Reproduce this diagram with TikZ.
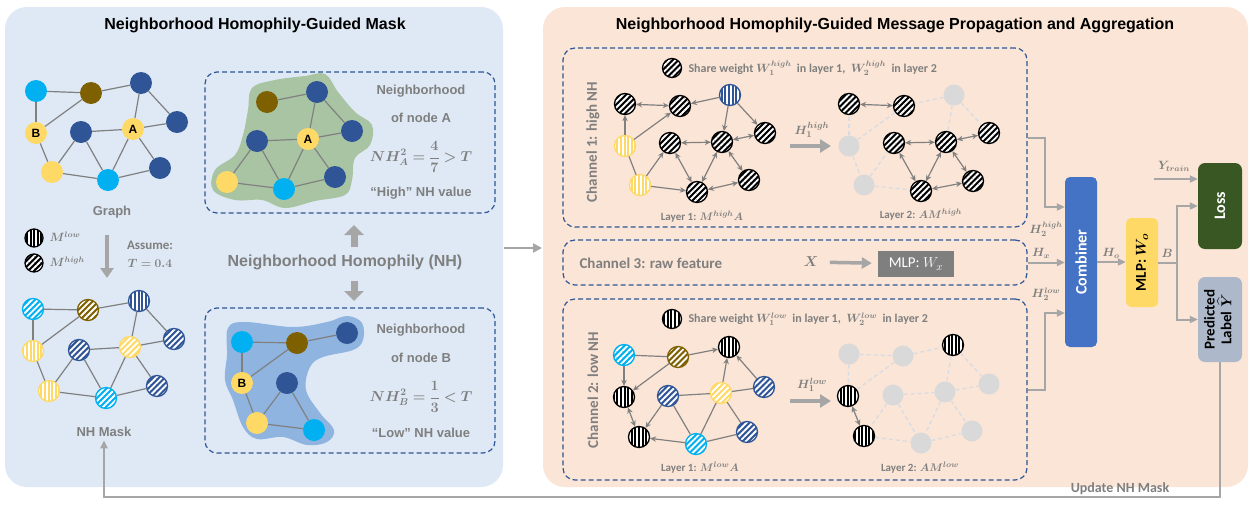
\documentclass[tikz,border=0pt]{standalone}
\usepackage{fontspec}
\setmainfont{Liberation Sans}
\newfontfamily\carl{Carlito}
\usepackage{amsmath}
\usepackage{bm}
\usetikzlibrary{arrows.meta,patterns.meta}
\newcommand\myfs[1]{\fontsize{#1}{#1}\selectfont}
\definecolor{cyanN}{HTML}{00B0F0}
\definecolor{brownN}{HTML}{7F6000}
\definecolor{blueN}{HTML}{2F5597}
\definecolor{yellowN}{HTML}{FFD966}
\definecolor{leftbg}{HTML}{DEE9F5}
\definecolor{rightbg}{HTML}{FBE5D6}
\definecolor{txtgray}{HTML}{7F7F7F}
\definecolor{edgegray}{HTML}{808080}
\definecolor{arrgray}{HTML}{A6A6A6}
\definecolor{ghost}{HTML}{D9D9D9}
\definecolor{ghostedge}{HTML}{D6DCE5}
\definecolor{greenblob}{HTML}{A9C4A3}
\definecolor{blueblob}{HTML}{8FB4E0}
\definecolor{combblue}{HTML}{4472C4}
\definecolor{lossgreen}{HTML}{385723}
\definecolor{predgray}{HTML}{ADB9CA}
\definecolor{mlpgray}{HTML}{7F7F7F}
\tikzset{
 title/.style={font=\bfseries\myfs{16}},
 gtxt/.style={text=txtgray,font=\bfseries\myfs{13}},
 ctxt/.style={text=txtgray,font=\carl\bfseries\myfs{15}},
 stxt/.style={text=txtgray,font=\carl\bfseries\myfs{11}},
 htxt/.style={text=txtgray,font=\myfs{13}},
 gn/.style={circle,minimum size=22pt,inner sep=0pt,fill=#1,font=\bfseries\myfs{12}},
 hd/.style={circle,minimum size=21pt,inner sep=0pt,draw=#1,line width=1.3pt,preaction={fill=#1},pattern={Lines[angle=45,distance=4.2pt,line width=1.9pt]},pattern color=white},
 hv/.style={circle,minimum size=21pt,inner sep=0pt,draw=#1,line width=1.3pt,preaction={fill=#1},pattern={Lines[angle=90,distance=3.6pt,line width=1.6pt]},pattern color=white},
 gh/.style={circle,minimum size=21pt,inner sep=0pt,fill=ghost},
 ge/.style={draw=edgegray,line width=1.2pt},
 gd/.style={draw=ghostedge,line width=1.3pt,dash pattern=on 4pt off 3pt},
 ar/.style={draw=edgegray,line width=1.2pt,-{Stealth[length=6pt,width=5.5pt]}},
 ab/.style={draw=edgegray,line width=1.2pt,{Stealth[length=6pt,width=5.5pt]}-{Stealth[length=6pt,width=5.5pt]}},
 conn/.style={draw=arrgray,line width=2pt,-{Triangle[length=8pt,width=7pt]}},
 fat/.style={draw=arrgray,line width=#1},
 dbox/.style={draw=blueN,line width=1.2pt,dash pattern=on 5pt off 3pt,rounded corners=12pt,inner sep=0pt},
}
\begin{document}
\begin{tikzpicture}[x=1pt,y=-1pt]
\useasboundingbox (0,0) rectangle (1251,504);
\fill[white] (0,0) rectangle (1251,504);
\fill[leftbg,rounded corners=22pt] (5,7) rectangle (503,487);
\fill[rightbg,rounded corners=22pt] (543,7) rectangle (1248,487);
\node[title] (tl) at (255,25) {Neighborhood Homophily-Guided Mask};
\node[title] (tr) at (895,25) {Neighborhood Homophily-Guided Message Propagation and Aggregation};

% ---------- Graph ----------
\node[gn=cyanN] (g1) at (36,91) {};
\node[gn=brownN] (g2) at (91,93) {};
\node[gn=blueN] (g3) at (141,83) {};
\node[gn=blueN] (g4) at (177,122) {};
\node[gn=yellowN] (gA) at (133,129) {A};
\node[gn=yellowN] (gB) at (36,133) {B};
\node[gn=blueN] (g5) at (81,132) {};
\node[gn=yellowN] (g6) at (52,172) {};
\node[gn=cyanN] (g7) at (108,180) {};
\node[gn=blueN] (g8) at (160,168) {};
\foreach \a/\b in {g1/g2,g1/gB,g2/gB,g2/g3,g3/gA,g3/g4,gA/g4,gA/g5,gA/g7,gA/g8,g5/g6,g5/g7,gB/g6,g6/g7,g7/g8}
  \draw[ge] (\a) -- (\b);
\node[gtxt] (graphlbl) at (112,212) {Graph};

% legend
\node[hv=black,minimum size=18pt] (legl) at (34,238) {};
\node[anchor=west,htxt,font=\myfs{12}] (leglt) at (46,237) {$\bm{M^{low}}$};
\node[hd=black,minimum size=18pt] (legh) at (34,263) {};
\node[anchor=west,htxt,font=\myfs{12}] (leght) at (46,262) {$\bm{M^{high}}$};
\coordinate (da1) at (107,235); \coordinate (da2) at (107,278);
\draw[fat=4.5pt,-{Triangle[length=10pt,width=13pt]}] (da1) -- (da2);
\node[text=txtgray,font=\carl\bfseries\myfs{13}] (assume) at (150,245) {Assume:};
\node[htxt] (tval) at (150,263) {$\bm{T=0.4}$};

% ---------- NH mask ----------
\node[hd=cyanN] (h1) at (33,309) {};
\node[hd=brownN] (h2) at (88,310) {};
\node[hv=blueN] (h3) at (139,301) {};
\node[hd=blueN] (h4) at (174,339) {};
\node[hd=yellowN] (hA) at (130,347) {};
\node[hv=yellowN] (hB) at (33,351) {};
\node[hd=blueN] (h5) at (79,350) {};
\node[hv=yellowN] (h6) at (49,391) {};
\node[hd=cyanN] (h7) at (106,398) {};
\node[hd=blueN] (h8) at (157,386) {};
\foreach \a/\b in {h1/h2,h1/hB,h2/hB,h2/h3,h3/hA,h3/h4,hA/h4,hA/h5,hA/h7,hA/h8,h5/h6,h5/h7,hB/h6,h6/h7,h7/h8}
  \draw[ge] (\a) -- (\b);
\node[gtxt] (masklbl) at (104,432) {NH Mask};

% ---------- Neighborhood A ----------
\node[dbox,minimum width=290pt,minimum height=141pt] (boxA) at (350,142.5) {};
\fill[greenblob] plot[smooth cycle,tension=0.6] coordinates {(252,88) (275,80) (305,76) (325,74) (338,92) (355,112) (372,125) (370,145) (355,158) (352,180) (345,195) (315,201) (285,208) (262,200) (235,200) (213,190) (215,170) (235,155) (243,135) (248,110)};
\node[gn=brownN] (a2) at (267,102) {};
\node[gn=blueN] (a3) at (317,92) {};
\node[gn=yellowN] (aA) at (308,139) {A};
\node[gn=blueN] (a5) at (257,141) {};
\node[gn=blueN] (a4) at (352,131) {};
\node[gn=yellowN] (a6) at (227,182) {};
\node[gn=cyanN] (a7) at (284,189) {};
\node[gn=blueN] (a8) at (335,177) {};
\foreach \a/\b in {a2/a3,a3/aA,a3/a4,aA/a4,aA/a5,aA/a7,aA/a8,a5/a6,a5/a7,a6/a7,a7/a8}
  \draw[ge] (\a) -- (\b);
\node[gtxt] (ta1) at (421,91) {Neighborhood};
\node[gtxt] (ta2) at (421,118) {of node A};
\node[htxt,font=\myfs{14}] (ta3) at (421,157) {$\displaystyle\bm{NH_A^2}\bm{=}\bm{\frac{4}{7}}\bm{>}\bm{T}$};
\node[gtxt] (ta4) at (421,193) {“High” NH value};

% ---------- Neighborhood B ----------
\node[dbox,minimum width=290pt,minimum height=145pt] (boxB) at (350,380.5) {};
\fill[blueblob] plot[smooth cycle,tension=0.6] coordinates {(228,328) (245,322) (293,327) (327,322) (347,316) (362,323) (363,340) (353,350) (323,357) (310,367) (306,390) (320,413) (334,430) (327,442) (307,445) (283,437) (257,439) (243,427) (233,400) (225,380) (227,355)};
\node[gn=cyanN] (b1) at (242,342) {};
\node[gn=brownN] (b2) at (297,343) {};
\node[gn=blueN] (b3) at (347,333) {};
\node[gn=yellowN] (bB) at (242,383) {B};
\node[gn=blueN] (b5) at (287,383) {};
\node[gn=yellowN] (b6) at (257,423) {};
\node[gn=cyanN] (b7) at (314,430) {};
\foreach \a/\b in {b1/b2,b1/bB,b2/bB,b2/b3,bB/b6,b5/b6,b5/b7,b6/b7}
  \draw[ge] (\a) -- (\b);
\node[gtxt] (tb1) at (421,330) {Neighborhood};
\node[gtxt] (tb2) at (421,358) {of node B};
\node[htxt,font=\myfs{14}] (tb3) at (421,397) {$\displaystyle\bm{NH_B^2}\bm{=}\bm{\frac{1}{3}}\bm{<}\bm{T}$};
\node[gtxt] (tb4) at (421,433) {“Low” NH value};

% NH text and arrows
\node[text=txtgray,font=\bfseries\myfs{16}] (nh) at (345,262) {Neighborhood Homophily (NH)};
\coordinate (u1) at (354,247); \coordinate (u2) at (354,225);
\coordinate (d1) at (354,281); \coordinate (d2) at (354,301);
\draw[fat=7pt,-{Triangle[length=10pt,width=19pt]}] (u1) -- (u2);
\draw[fat=7pt,-{Triangle[length=10pt,width=19pt]}] (d1) -- (d2);
\coordinate (lp) at (504,248); \coordinate (rp) at (542,248);
\draw[fat=2.5pt,-{Triangle[length=9pt,width=9pt]}] (lp) -- (rp);

% ---------- Channel boxes ----------
\node[dbox,minimum width=464pt,minimum height=179pt] (ch1) at (795,137.5) {};
\node[dbox,minimum width=464pt,minimum height=45pt] (ch3) at (795,262.5) {};
\node[dbox,minimum width=464pt,minimum height=181pt] (ch2) at (795,389.5) {};
\node[ctxt,rotate=90] (c1l) at (593,142) {Channel 1: high NH};
\node[ctxt,rotate=90] (c2l) at (593,390) {Channel 2: low NH};

% share weight legends
\node[hd=black,minimum size=19pt] (sw1) at (672,68) {};
\node[stxt,font=\carl\bfseries\myfs{12},anchor=west] (sw1t) at (685,68) {Share weight $\bm{W_1^{high}}$\ \ in layer 1,\ \ $\bm{W_2^{high}}$\ \ in layer 2};
\node[hv=black,minimum size=19pt] (sw2) at (672,319) {};
\node[stxt,font=\carl\bfseries\myfs{12},anchor=west] (sw2t) at (685,319) {Share weight $\bm{W_1^{low}}$\ \ in layer 1,\ \ $\bm{W_2^{low}}$\ \ in layer 2};

% Channel 1 layer 1
\node[hd=black] (n1) at (625,104) {};
\node[hd=black] (n2) at (680,106) {};
\node[hv=blueN] (n3) at (730,95) {};
\node[hv=yellowN] (n4) at (625,146) {};
\node[hd=black] (n5) at (670,143) {};
\node[hd=black] (n6) at (722,142) {};
\node[hd=black] (n7) at (765,133) {};
\node[hv=yellowN] (n8) at (640,185) {};
\node[hd=black] (n9) at (697,192) {};
\node[hd=black] (n10) at (749,180) {};
\foreach \a/\b in {n1/n2,n5/n6,n5/n9,n6/n7,n6/n9,n6/n10,n9/n10} \draw[ab] (\a) -- (\b);
\foreach \a/\b in {n3/n2,n3/n6,n3/n7,n4/n1,n4/n2,n8/n5,n8/n9} \draw[ar] (\a) -- (\b);
\draw[ge] (n4) -- (n8);
\node[stxt] (l11) at (702,217) {Layer 1: $\bm{M^{high}A}$};

% Channel 1 layer 2
\node[hd=black] (m1) at (849,104) {};
\node[hd=black] (m2) at (904,106) {};
\node[gh] (m3) at (954,95) {};
\node[gh] (m4) at (849,146) {};
\node[hd=black] (m5) at (894,143) {};
\node[hd=black] (m6) at (946,142) {};
\node[hd=black] (m7) at (989,133) {};
\node[gh] (m8) at (864,185) {};
\node[hd=black] (m9) at (921,191) {};
\node[hd=black] (m10) at (973,181) {};
\foreach \a/\b in {m3/m2,m3/m6,m3/m7,m4/m1,m4/m2,m4/m8,m8/m5,m8/m9} \draw[gd] (\a) -- (\b);
\foreach \a/\b in {m1/m2,m5/m6,m5/m9,m6/m7,m6/m9,m6/m10,m9/m10} \draw[ab] (\a) -- (\b);
\node[stxt] (l12) at (921,215) {Layer 2: $\bm{AM^{high}}$};
\coordinate (h1a) at (790,146); \coordinate (h1b) at (831,146);
\draw[fat=4.5pt,-{Triangle[length=11pt,width=13pt]}] (h1a) -- (h1b);
\node[htxt] (h1l) at (812,130) {$\bm{H_1^{high}}$};

% Channel 3
\node[ctxt,anchor=west] (c3l) at (576,263) {Channel 3: raw feature};
\node[htxt,font=\myfs{15}] (X) at (811,262) {$\bm{X}$};
\node[fill=mlpgray,text=white,font=\carl\myfs{15},minimum width=76pt,minimum height=26pt,inner sep=0pt] (mlpx) at (916,264) {MLP: $W_x$};
\draw[fat=3.5pt,-{Triangle[length=10pt,width=11pt]},shorten <=8pt,shorten >=6pt] (X) -- (mlpx);

% Channel 2 layer 1
\node[hd=cyanN] (p1) at (624,355) {};
\node[hd=brownN] (p2) at (678,357) {};
\node[hv=black] (p3) at (729,347) {};
\node[hv=black] (p4) at (624,397) {};
\node[hd=blueN] (p5) at (668,396) {};
\node[hd=yellowN] (p6) at (721,393) {};
\node[hd=blueN] (p7) at (764,387) {};
\node[hv=black] (p8) at (639,437) {};
\node[hd=cyanN] (p9) at (696,444) {};
\node[hd=blueN] (p10) at (747,432) {};
\foreach \a/\b in {p1/p2,p5/p6,p5/p9,p6/p9,p6/p7,p6/p10,p9/p10} \draw[ge] (\a) -- (\b);
\foreach \a/\b in {p1/p4,p2/p3,p2/p4,p6/p3,p7/p3,p5/p8,p9/p8} \draw[ar] (\a) -- (\b);
\draw[ab] (p4) -- (p8);
\node[stxt] (l21) at (700,468) {Layer 1: $\bm{M^{low}A}$};

% Channel 2 layer 2
\node[gh] (q1) at (849,354) {};
\node[gh] (q2) at (903,356) {};
\node[hv=black] (q3) at (953,345) {};
\node[hv=black] (q4) at (848,396) {};
\node[gh] (q5) at (893,395) {};
\node[gh] (q6) at (945,392) {};
\node[gh] (q7) at (989,384) {};
\node[hv=black] (q8) at (864,436) {};
\node[gh] (q9) at (921,443) {};
\node[gh] (q10) at (972,431) {};
\foreach \a/\b in {q1/q2,q1/q4,q2/q3,q2/q4,q3/q6,q3/q7,q5/q6,q5/q8,q5/q9,q6/q7,q6/q9,q6/q10,q9/q10,q8/q9} \draw[gd] (\a) -- (\b);
\draw[ab] (q4) -- (q8);
\node[stxt] (l22) at (920,468) {Layer 2: $\bm{AM^{low}}$};
\coordinate (h2a) at (790,401); \coordinate (h2b) at (831,401);
\draw[fat=4.5pt,-{Triangle[length=11pt,width=13pt]}] (h2a) -- (h2b);
\node[htxt] (h2l) at (812,385) {$\bm{H_1^{low}}$};

% ---------- Combiner and heads ----------
\node[fill=combblue,rounded corners=5pt,minimum width=32pt,minimum height=170pt,inner sep=0pt,text=white,font=\carl\bfseries\myfs{16}] (comb) at (1081,262) {\rotatebox{90}{Combiner}};
\node[fill=yellowN,rounded corners=5pt,minimum width=32pt,minimum height=89pt,inner sep=0pt,font=\carl\bfseries\myfs{15}] (mlpo) at (1142,262.5) {\rotatebox{90}{MLP: $\bm{W_o}$}};
\node[fill=lossgreen,rounded corners=7pt,minimum width=44pt,minimum height=86pt,inner sep=0pt,text=white,font=\carl\bfseries\myfs{16}] (loss) at (1220,206) {\rotatebox{90}{Loss}};
\node[fill=predgray,rounded corners=7pt,minimum width=44pt,minimum height=85pt,inner sep=0pt,font=\carl\bfseries\myfs{15}] (pred) at (1220,319.5) {\rotatebox{90}{\begin{tabular}{@{}c@{}}Predicted\\[-2pt] Label $\bm{\widehat{Y}}$\end{tabular}}};

\coordinate (k1) at (1045,207);
\draw[conn] (ch1.east) -| (k1) -- (k1 -| comb.west);
\coordinate (k2) at (1045,313);
\draw[conn] (ch2.east) -| (k2) -- (k2 -| comb.west);
\draw[conn] (ch3.east) -- (ch3.east -| comb.west);
\node[htxt,font=\myfs{12}] (lh2h) at (1046,229) {$\bm{H_2^{high}}$};
\node[htxt,font=\myfs{12}] (lhx) at (1041,253) {$\bm{H_x}$};
\node[htxt,font=\myfs{12}] (lh2l) at (1046,294) {$\bm{H_2^{low}}$};
\draw[conn] (comb.east) -- (comb.east -| mlpo.west);
\node[htxt,font=\myfs{12}] (lho) at (1111,253) {$\bm{H_o}$};
\coordinate (bs) at (1177,262.5);
\draw[draw=arrgray,line width=2pt] (mlpo.east) -- (bs);
\draw[conn] (bs) |- (loss.west);
\draw[conn] (bs) |- (pred.west);
\node[htxt,font=\myfs{12}] (lb) at (1167,253) {$\bm{B}$};
\coordinate (yt) at (1154,179);
\draw[conn] (yt) -- (yt -| loss.west);
\node[htxt,font=\myfs{12}] (lyt) at (1174,166) {$\bm{Y_{train}}$};

% update loop
\coordinate (lpb) at (104,497);
\draw[conn] (pred.south) |- (lpb) -- (masklbl.south);
\node[text=txtgray,font=\carl\bfseries\myfs{14}] (upd) at (1120,489) {Update NH Mask};
\end{tikzpicture}
\end{document}
